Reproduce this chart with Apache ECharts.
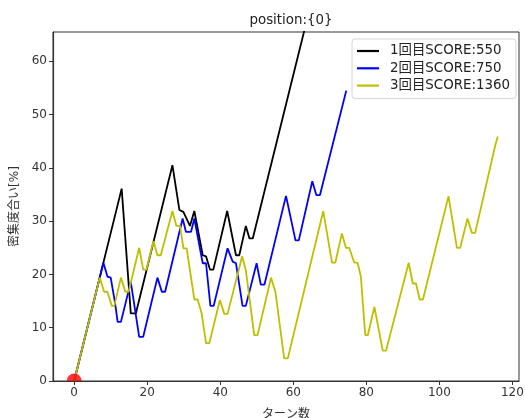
<!DOCTYPE html>
<html>
<head>
<meta charset="utf-8">
<script src="https://cdn.jsdelivr.net/npm/echarts@6/dist/echarts.min.js"></script>
<style>
html,body{margin:0;padding:0;background:#fff;}
#chart{width:525px;height:418px;}
</style>
</head>
<body>
<div id="chart"></div>
<script>
var seriesNames = ['1回目SCORE:550', '2回目SCORE:750', '3回目SCORE:1360'];
var xTicks = [0, 20, 40, 60, 80, 100, 120];
var yTicks = [0, 10, 20, 30, 40, 50, 60];

var run1X = [0, 13, 15.5, 16.9, 26.9, 28.8, 29.9, 31.7, 32.9, 35.2, 36.1, 37.2, 38.1, 41.9, 44.3, 45.2, 47.0, 48.0, 48.9, 64];
var run1Y = [0, 36.1, 12.7, 12.7, 40.5, 32.1, 31.75, 29.1, 31.9, 23.6, 23.4, 20.9, 20.9, 31.9, 23.6, 23.6, 29.1, 26.75, 26.75, 68.5];

var run2X = [0, 8, 9.1, 10.0, 11.2, 11.9, 12.8, 15.5, 17.8, 18.9, 22.8, 24.0, 24.9, 29.7, 30.6, 32.0, 32.9, 35.2, 36.1, 37.3, 38.2, 42.0, 43.4, 44.3, 46.1, 47.0, 49.95, 51.1, 52.1, 58.0, 60.6, 61.5, 65.2, 66.3, 67.3, 74.5];
var run2Y = [0, 22.2, 19.6, 19.4, 14.6, 11.1, 11.1, 18.6, 8.3, 8.3, 19.4, 16.75, 16.75, 30.5, 28, 28, 30.5, 22.1, 22.1, 14.1, 14.1, 24.9, 22.4, 22.1, 14.1, 14.1, 22.1, 18.1, 18.1, 34.75, 26.4, 26.4, 37.5, 34.9, 34.9, 54.5];

var run3X = [0, 7, 8.2, 9.1, 10.3, 11.0, 12.8, 14.0, 14.9, 17.8, 18.9, 19.8, 21.7, 22.8, 23.7, 26.9, 28.0, 29.0, 29.9, 30.8, 32.9, 33.8, 34.9, 36.1, 37.0, 39.9, 41.1, 42.0, 46.0, 47.0, 49.3, 50.2, 53.9, 55.1, 57.5, 58.5, 68.2, 70.6, 71.5, 73.3, 74.4, 75.3, 76.7, 77.6, 78.5, 79.7, 80.4, 82.2, 84.5, 85.4, 91.6, 92.7, 93.6, 94.6, 95.5, 102.5, 104.8, 105.7, 107.7, 108.9, 109.8, 115.3, 116];
var run3Y = [0, 19.4, 16.75, 16.75, 14.1, 14.1, 19.4, 16.75, 16.75, 25, 20.9, 20.9, 26.25, 23.6, 23.6, 31.9, 29.1, 29.1, 24.9, 24.9, 15.3, 15.3, 12.7, 7.1, 7.1, 15.2, 12.6, 12.6, 23.4, 20.8, 8.6, 8.6, 19.4, 16.75, 4.25, 4.25, 31.9, 22.2, 22.2, 27.7, 25, 25, 22.2, 22.2, 19.6, 8.6, 8.6, 13.9, 5.7, 5.7, 22.2, 18.3, 18.3, 15.3, 15.3, 34.7, 25, 25, 30.5, 27.8, 27.8, 44.25, 45.9];

var startX = [0];
var startY = [0];

function pairs(xs, ys) { return xs.map(function (x, i) { return [x, ys[i]]; }); }

var colors = ['#000000', '#0000ff', '#bfbf00'];
var font = '"DejaVu Sans", "Noto Sans CJK JP", sans-serif';
var textColor = '#333';

var chart = echarts.init(document.getElementById('chart'), null, {renderer: 'canvas'});
var lineSeries = [[run1X, run1Y], [run2X, run2Y], [run3X, run3Y]].map(function (d, i) {
  return {
    type: 'line', name: seriesNames[i], data: pairs(d[0], d[1]),
    symbol: 'none', clip: true, animation: false,
    lineStyle: {color: colors[i], width: 1.8},
    itemStyle: {color: colors[i]}
  };
});
lineSeries.push({
  type: 'scatter', name: 'start', data: pairs(startX, startY),
  symbol: 'path://M0,10 A10,10 0 0 1 20,10 Z', symbolSize: [15, 7.5], symbolOffset: [0, '-50%'],
  itemStyle: {color: '#ff0000'}, z: 5, animation: false, clip: false
});

chart.setOption({
  animation: false,
  textStyle: {fontFamily: font},
  title: {
    text: 'position:{0}', left: 286, top: 9, textAlign: 'center',
    textStyle: {fontFamily: font, fontSize: 13.4, fontWeight: 'normal', color: '#222'}
  },
  grid: {left: 53, right: 6, top: 32, bottom: 37, show: true, borderColor: '#333', borderWidth: 1, backgroundColor: '#fff', outerBoundsMode: 'none', containLabel: false},
  legend: {
    data: seriesNames.map(function (n) { return {name: n, icon: 'path://M0,0 L10,0 L10,1 L0,1 Z'}; }),
    orient: 'vertical', left: 352, top: 39,
    padding: [5, 6, 6, 5], itemGap: 3.3, itemWidth: 26, itemHeight: 2.2,
    backgroundColor: '#fff', borderColor: '#d6d6d6', borderWidth: 1, borderRadius: 3,
    textStyle: {fontFamily: font, fontSize: 13.4, color: '#222', lineHeight: 14, padding: [0, 0, 0, 4]}
  },
  xAxis: {
    type: 'value', min: -5.8, max: 121.8,
    name: 'ターン数', nameLocation: 'middle', nameGap: 28,
    nameTextStyle: {fontFamily: font, fontSize: 12, color: textColor},
    axisLine: {show: true, onZero: false, lineStyle: {color: '#333', width: 1.2}},
    axisTick: {show: true, inside: false, length: 4, lineStyle: {color: '#333'}, customValues: xTicks},
    axisLabel: {customValues: xTicks, fontFamily: font, fontSize: 12, color: textColor, margin: 6},
    splitLine: {show: false}
  },
  yAxis: {
    type: 'value', min: 0, max: 65.5,
    name: '密集度合い[%]', nameLocation: 'middle', nameRotate: 90, nameGap: 32,
    nameTextStyle: {fontFamily: font, fontSize: 12, color: textColor},
    axisLine: {show: true, onZero: false, lineStyle: {color: '#333', width: 1.2}},
    axisTick: {show: true, inside: false, length: 4, lineStyle: {color: '#333'}, customValues: yTicks},
    axisLabel: {customValues: yTicks, fontFamily: font, fontSize: 12, color: textColor, margin: 6},
    splitLine: {show: false}
  },
  series: lineSeries
});
</script>
</body>
</html>
